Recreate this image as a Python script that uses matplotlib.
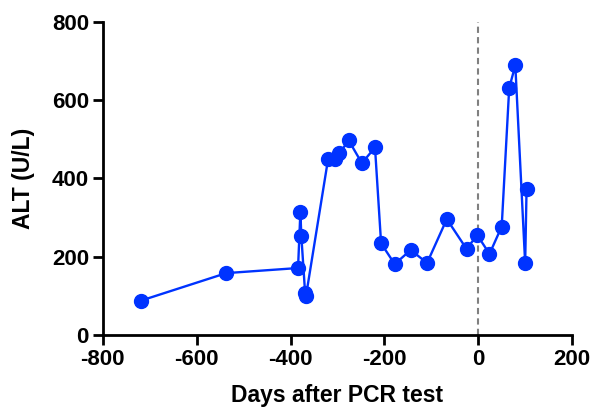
import matplotlib.pyplot as plt

plt.rcParams['font.family'] = ['Liberation Sans', 'DejaVu Sans']
plt.rcParams['font.weight'] = 'bold'
plt.rcParams['axes.unicode_minus'] = False

days = [-718, -537, -384, -379, -377, -369, -367, -320, -305, -296, -276,
        -248, -220, -207, -178, -144, -109, -67, -25, -2, 24, 50, 66, 79,
        100, 103]
alt = [88, 158, 171, 315, 253, 108, 100, 449, 449, 464, 497,
       439, 479, 234, 181, 217, 184, 296, 220, 255, 207, 277, 631, 689,
       183, 374]

fig = plt.figure(figsize=(5.91, 4.12), dpi=100)
ax = fig.add_axes([0.174, 0.187, 0.794, 0.760])

ax.axvline(0, color='grey', linestyle=(0, (3, 2)), linewidth=1.5, zorder=1)
ax.plot(days, alt, color='#0033ff', linewidth=1.7, marker='o', markersize=10, zorder=3)

ax.set_xlim(-800, 200)
ax.set_ylim(0, 800)
ax.set_xticks([-800, -600, -400, -200, 0, 200])
ax.set_yticks([0, 200, 400, 600, 800])

for s in ['top', 'right']:
    ax.spines[s].set_visible(False)
for s in ['left', 'bottom']:
    ax.spines[s].set_linewidth(2)
ax.tick_params(width=2, length=7, labelsize=16, pad=3)

ax.set_xlabel('Days after PCR test', fontsize=16.5, fontweight='bold', labelpad=10)
ax.set_ylabel('ALT (U/L)', fontsize=16.5, fontweight='bold', labelpad=12)

fig.savefig('out.png', dpi=100)
